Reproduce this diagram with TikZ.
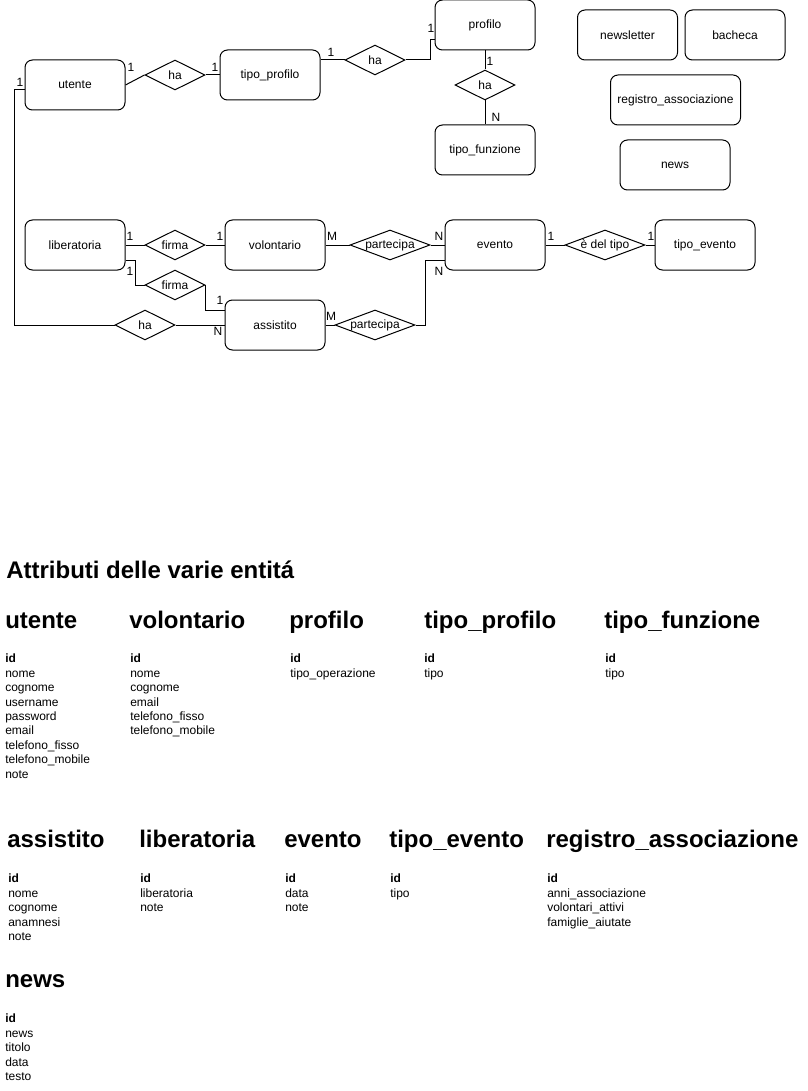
\documentclass[tikz,border=0pt]{standalone}
\usepackage{fontspec}
\setmainfont{Liberation Sans}
\usetikzlibrary{shapes.geometric,calc}

\tikzset{
	entity/.style={draw, line width=0.75pt, rounded corners=5.6pt, minimum width=75pt, minimum height=37.5pt, inner sep=0pt, font=\fontsize{9pt}{10.8pt}\selectfont},
	rel/.style={draw, line width=0.75pt, diamond, minimum width=45pt, minimum height=22.5pt, inner sep=0pt, font=\fontsize{9pt}{10.8pt}\selectfont},
	card/.style={inner sep=0pt, font=\fontsize{9pt}{10.8pt}\selectfont},
	head/.style={anchor=base west, inner sep=0pt, font=\fontsize{18pt}{21.6pt}\selectfont\bfseries},
	attr/.style={anchor=north west, inner sep=0pt, align=left, font=\fontsize{9pt}{10.8pt}\selectfont},
	link/.style={line width=0.75pt}
}

\begin{document}
\begin{tikzpicture}[x=0.75pt, y=-0.75pt]
		\useasboundingbox (0,0) rectangle (807,1091);
		
		% entita' e relazioni, parte alta
		\node[entity] (utente) at (75,85) {utente};
		\node[rel] (ha1) at (175,75) {\makebox[0pt]{ha}};
		\node[entity] (tprofilo) at (270,75) {tipo\_profilo};
		\node[rel] (ha2) at (375,60) {\makebox[0pt]{ha}};
		\node[entity] (profilo) at (485,25) {profilo};
		\node[rel] (ha3) at (485,85) {\makebox[0pt]{ha}};
		\node[entity] (tfunzione) at (485,150) {tipo\_funzione};
		
		\node[entity] (newsletter) at (627.5,35) {newsletter};
		\node[entity] (bacheca) at (735,35) {bacheca};
		\node[entity, minimum width=97.5pt] (registro) at (675.5,100) {registro\_associazione};
		\node[entity, minimum width=82.5pt] (news) at (675,165) {news};
		
		% parte bassa
		\node[entity] (liberatoria) at (75,245) {liberatoria};
		\node[rel] (firma1) at (175,245) {\makebox[0pt]{firma}};
		\node[entity] (volontario) at (275,245) {volontario};
		\node[rel] (firma2) at (175,285) {\makebox[0pt]{firma}};
		\node[entity] (assistito) at (275,325) {assistito};
		\node[rel] (ha4) at (145,325) {\makebox[0pt]{ha}};
		\node[rel, minimum width=60pt] (part1) at (390,245) {\makebox[0pt]{partecipa}};
		\node[entity] (evento) at (495,245) {evento};
		\node[rel, minimum width=60pt] (deltipo) at (605,245) {\makebox[0pt]{è del tipo}};
		\node[entity] (tevento) at (705,245) {tipo\_evento};
		\node[rel, minimum width=60pt] (part2) at (375,325) {\makebox[0pt]{partecipa}};
		
		\draw[link] (utente.east) -- (ha1.west);
		\draw[link] (ha1.east) -- (tprofilo.west);
		\draw[link] (tprofilo.east |- ha2.west) -- (ha2.west);
		\draw[link] (ha2.east) -- ++(25,0) |- ($(profilo.west)+(0,15)$);
		\draw[link] (profilo.south) -- (ha3.north);
		\draw[link] (ha3.south) -- (tfunzione.north);
		\draw[link] ($(utente.west)+(0,5)$) -- ++(-10,0) |- (ha4.west);
		\draw[link] (ha4.east) -- (assistito.west);
		
		\draw[link] (liberatoria.east) -- (firma1.west);
		\draw[link] (firma1.east) -- (volontario.west);
		\draw[link] ($(liberatoria.east)+(0,15)$) -- ++(10,0) |- (firma2.west);
		\draw[link] (firma2.east) |- ($(assistito.west)+(0,-15)$);
		\draw[link] (volontario.east) -- (part1.west);
		\draw[link] (part1.east) -- (evento.west);
		\draw[link] (assistito.east) -- (part2.west);
		\draw[link] (part2.east) -- ++(10,0) |- ($(evento.west)+(0,15)$);
		\draw[link] (evento.east) -- (deltipo.west);
		\draw[link] (deltipo.east) -- (tevento.west);
		
		% cardinalita'
		\node[card] (c1) at (131,67) {1};
		\node[card] (c2) at (215,67) {1};
		\node[card] (c3) at (331,52) {1};
		\node[card] (c4) at (431,28) {1};
		\node[card] (c5) at (490,61) {1};
		\node[card] (c6) at (496,117) {N};
		\node[card] (c7) at (20,82) {1};
		\node[card] (c8) at (218,331) {N};
		\node[card] (c9) at (130,236) {1};
		\node[card] (c10) at (220,236) {1};
		\node[card] (c11) at (130,271) {1};
		\node[card] (c12) at (220,300) {1};
		\node[card] (c13) at (332,236) {M};
		\node[card] (c14) at (439,236) {N};
		\node[card] (c15) at (331,316) {M};
		\node[card] (c16) at (439,271) {N};
		\node[card] (c17) at (551,236) {1};
		\node[card] (c18) at (651,236) {1};
		
		% attributi
		\node[head] (titolo) at (6,578) {Attributi delle varie entitá};
		
		\node[head] (hUtente) at (5,628) {utente};
		\node[attr] (aUtente) at (5,654) {\textbf{id}\\nome\\cognome\\username\\password\\email\\telefono\_fisso\\telefono\_mobile\\note};
		\node[head] (hVolontario) at (129,628) {volontario};
		\node[attr] (aVolontario) at (130,654) {\textbf{id}\\nome\\cognome\\email\\telefono\_fisso\\telefono\_mobile};
		\node[head] (hProfilo) at (289,628) {profilo};
		\node[attr] (aProfilo) at (290,654) {\textbf{id}\\tipo\_operazione};
		\node[head] (hTprofilo) at (424,628) {tipo\_profilo};
		\node[attr] (aTprofilo) at (424,654) {\textbf{id}\\tipo};
		\node[head] (hTfunzione) at (604,628) {tipo\_funzione};
		\node[attr] (aTfunzione) at (605,654) {\textbf{id}\\tipo};
		
		\node[head] (hAssistito) at (7,847) {assistito};
		\node[attr] (aAssistito) at (8,874) {\textbf{id}\\nome\\cognome\\anamnesi\\note};
		\node[head] (hLiberatoria) at (139,847) {liberatoria};
		\node[attr] (aLiberatoria) at (140,874) {\textbf{id}\\liberatoria\\note};
		\node[head] (hEvento) at (284,847) {evento};
		\node[attr] (aEvento) at (285,874) {\textbf{id}\\data\\note};
		\node[head] (hTevento) at (389,847) {tipo\_evento};
		\node[attr] (aTevento) at (390,874) {\textbf{id}\\tipo};
		\node[head] (hRegistro) at (546,847) {registro\_associazione};
		\node[attr] (aRegistro) at (547,874) {\textbf{id}\\anni\_associazione\\volontari\_attivi\\famiglie\_aiutate};
		
		\node[head] (hNews) at (5,987) {news};
		\node[attr] (aNews) at (5,1014) {\textbf{id}\\news\\titolo\\data\\testo};
	\end{tikzpicture}
\end{document}
